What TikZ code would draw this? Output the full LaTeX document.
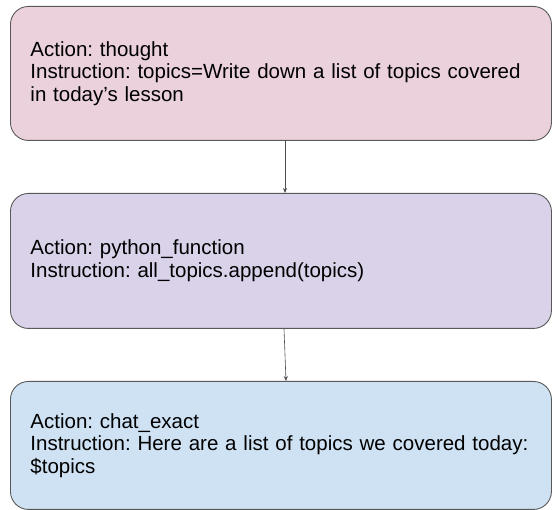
\documentclass[tikz,border=0pt]{standalone}
\usepackage{fontspec}
\setmainfont{Liberation Sans}
\usepackage{xcolor}
\usepackage{tikz}
\usetikzlibrary{arrows.meta, positioning, calc}
\frenchspacing
\definecolor{thoughtfill}{HTML}{EAD1DC}
\definecolor{pyfill}{HTML}{D9D2E9}
\definecolor{chatfill}{HTML}{CFE2F3}
\definecolor{edgegray}{HTML}{595959}
\tikzset{
  stepbox/.style={rectangle,rounded corners=18pt,draw=edgegray,line width=0.9pt,minimum width=541pt,inner xsep=20pt,inner ysep=0pt,text width=501pt,align=left,font=\fontsize{20.5}{22.5}\selectfont,anchor=north west},
  arr/.style={-{Stealth[length=5pt,width=4pt]},line width=0.6pt,draw=black!70}
}
\begin{document}
\begin{tikzpicture}[x=1pt,y=-1pt]
  \useasboundingbox (0,0) rectangle (552,510);

  % Thought
  \node[stepbox,fill=thoughtfill,minimum height=134pt] (th) at (10,6)
    {Action: thought\\Instruction: topics=Write down a list of topics covered\\in today’s lesson};

  % Python function
  \node[stepbox,fill=pyfill,minimum height=135pt] (py) at (10,193)
    {Action: python\_function\\Instruction: all\_topics.append(topics)};

  % Chat exact
  \node[stepbox,fill=chatfill,minimum height=128pt] (ch) at (10,381)
    {Action: chat\_exact\\Instruction: Here are a list of topics we covered today:\\\$topics};

  \draw[arr] (th.south -| 285,0) -- (py.north -| 285,0);
  \draw[arr] (py.south -| 284,0) -- (ch.north -| 286,0);
\end{tikzpicture}
\end{document}
